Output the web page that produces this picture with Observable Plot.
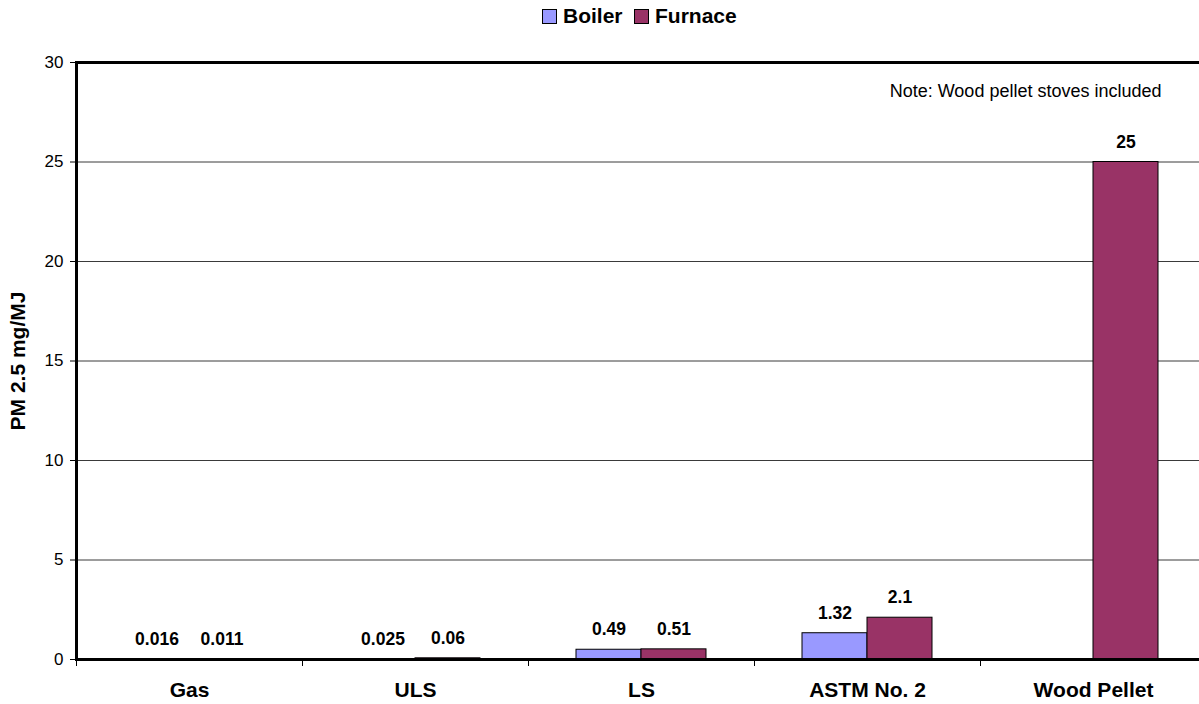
<!DOCTYPE html>
<html>
<head>
<meta charset="utf-8">
<script src="https://cdn.jsdelivr.net/npm/d3@7"></script>
<script src="https://cdn.jsdelivr.net/npm/@observablehq/plot@0.6"></script>
<style>
  html, body { margin: 0; padding: 0; background: #fff; overflow: hidden; }
  body { width: 1199px; height: 704px; font-family: "Liberation Sans", Arial, sans-serif; }
  #legend { position: relative; height: 40px; }
  #legend .item { position: absolute; top: 4px; height: 24px; display: flex; align-items: center; font-weight: bold; font-size: 21px; color: #000; }
  #legend .sw { width: 13px; height: 13px; border: 1px solid #000; margin-right: 6px; }
  #chart { width: 1199px; overflow: hidden; }
  #chart svg { max-width: none; }
</style>
</head>
<body>
<div id="legend"></div>
<div id="chart"></div>
<script>
// PM 2.5 emissions by fuel and appliance type
const categories = ["Gas", "ULS", "LS", "ASTM No. 2", "Wood Pellet"];
const series = ["Boiler", "Furnace"];
const boiler = [0.016, 0.025, 0.49, 1.32, null];
const furnace = [0.011, 0.06, 0.51, 2.1, 25];
const yTicks = [0, 5, 10, 15, 20, 25, 30];
const colors = {Boiler: "#9999FF", Furnace: "#993366"};

const rows = [];
categories.forEach((c, i) => {
  if (boiler[i] != null) rows.push({category: c, series: "Boiler", value: boiler[i]});
  if (furnace[i] != null) rows.push({category: c, series: "Furnace", value: furnace[i]});
});

// legend
const legend = document.getElementById("legend");
const legendPos = {Boiler: 542, Furnace: 634};
series.forEach(s => {
  const item = document.createElement("div");
  item.className = "item";
  item.style.left = legendPos[s] + "px";
  item.innerHTML = `<span class="sw" style="background:${colors[s]}"></span><span>${s}</span>`;
  legend.appendChild(item);
});

const half = 113;   // half of a category band
const barW = 65;

const plot = Plot.plot({
  width: 1206,
  height: 664,
  marginTop: 22,
  marginBottom: 45,
  marginLeft: 75,
  marginRight: 0,
  style: {fontFamily: "Liberation Sans, Arial, sans-serif", background: "white", overflow: "hidden", maxWidth: "none"},
  x: {domain: categories, padding: 0, axis: null},
  y: {domain: [0, 30], ticks: yTicks, axis: null},
  marks: [
    Plot.gridY(yTicks.filter(t => t > 0 && t < 30), {stroke: "#3a3a3a", strokeOpacity: 1, strokeWidth: 1}),
    Plot.axisY({ticks: yTicks, tickSize: 5, tickPadding: 7, fontSize: 17, tickFormat: d => d, label: null, stroke: "#000"}),
    Plot.text(["PM 2.5 mg/MJ"], {frameAnchor: "left", dx: -57, rotate: -90, textAnchor: "middle", lineAnchor: "middle", fontSize: 21, fontWeight: "bold", fill: "#000"}),
    // boiler bars sit left of the band centre, furnace bars to the right
    Plot.barY(rows.filter(d => d.series === "Boiler"), {
      x: "category", y: "value", fill: colors.Boiler, stroke: "#000", strokeWidth: 1,
      insetLeft: half - barW, insetRight: half
    }),
    Plot.barY(rows.filter(d => d.series === "Furnace"), {
      x: "category", y: "value", fill: colors.Furnace, stroke: "#000", strokeWidth: 1,
      insetLeft: half, insetRight: half - barW
    }),
    Plot.text(rows.filter(d => d.series === "Boiler"), {
      x: "category", y: "value", text: d => String(d.value),
      dx: -barW / 2, dy: -20, fontSize: 17.5, fontWeight: "bold", fill: "#000", lineAnchor: "middle"
    }),
    Plot.text(rows.filter(d => d.series === "Furnace"), {
      x: "category", y: "value", text: d => String(d.value),
      dx: barW / 2, dy: -20, fontSize: 17.5, fontWeight: "bold", fill: "#000", lineAnchor: "middle"
    }),
    // frame: top and bottom borders, left axis line
    Plot.ruleY([30], {stroke: "#000", strokeWidth: 3}),
    Plot.ruleY([0], {stroke: "#000", strokeWidth: 3}),
    Plot.ruleX([categories[0]], {dx: -half, stroke: "#000", strokeWidth: 3}),
    // category separator ticks below the baseline
    Plot.ruleX(categories, {x: d => d, dx: -half, y1: 0, y2: 0, insetBottom: -7, stroke: "#000", strokeWidth: 1}),
    // category labels
    Plot.text(categories, {x: d => d, frameAnchor: "bottom", dy: 31, fontSize: 21, fontWeight: "bold", fill: "#000", lineAnchor: "middle"}),
    // note
    Plot.text(["Note: Wood pellet stoves included"], {frameAnchor: "top-right", dx: -45, dy: 29, textAnchor: "end", lineAnchor: "middle", fontSize: 18, fill: "#000"})
  ]
});

document.getElementById("chart").appendChild(plot);
</script>
</body>
</html>
